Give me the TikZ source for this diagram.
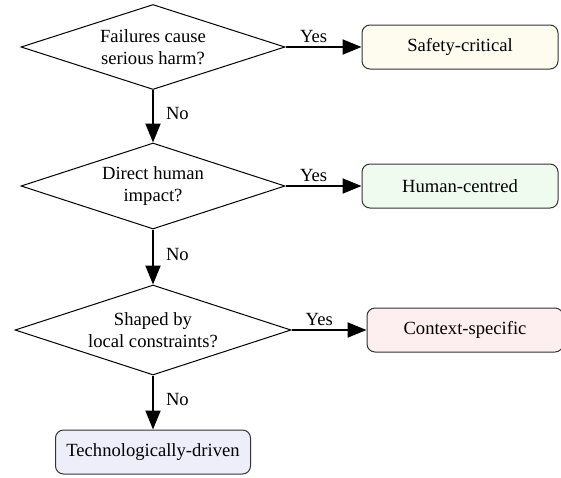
\documentclass[tikz,border=0pt]{standalone}
\usepackage{fontspec}
\setmainfont{Liberation Serif}
\usetikzlibrary{shapes.geometric,arrows.meta}
\definecolor{fyel}{HTML}{FDFCEE}
\definecolor{fgrn}{HTML}{EFFBEF}
\definecolor{fred}{HTML}{FDEFEF}
\definecolor{fblu}{HTML}{EEEEFB}
\begin{document}
\begin{tikzpicture}[x=1pt,y=-1pt,
  font=\fontsize{18.6}{22}\selectfont,
  decision/.style={diamond,aspect=3.1,draw=black,line width=1pt,inner sep=0pt,align=center,minimum width=264pt,minimum height=85pt},
  outcome/.style={draw=black!80,line width=1pt,rounded corners=8pt,minimum width=196pt,minimum height=44pt,inner sep=0pt},
  flow/.style={line width=2pt,-{Triangle[length=19pt,width=15pt]}},
  lbl/.style={inner sep=3pt}]
\useasboundingbox (0,0) rectangle (561,477);
\node[decision] (d1) at (153,47) {Failures cause\\serious harm?};
\node[decision,minimum height=86pt] (d2) at (153,186) {Direct human\\impact?};
\node[decision,minimum width=276pt,minimum height=90pt] (d3) at (153,330) {Shaped by\\local constraints?};
\node[outcome,fill=fyel] (b1) at (460,47) {Safety-critical};
\node[outcome,fill=fgrn] (b2) at (460,186) {Human-centred};
\node[outcome,fill=fred] (b3) at (465,330) {Context-specific};
\node[outcome,fill=fblu,minimum width=195pt] (b4) at (153,452) {Technologically-driven};
\draw[flow] (d1.east) -- node[lbl,pos=0.37,above] {Yes} (b1.west);
\draw[flow] (d2.east) -- node[lbl,pos=0.37,above] {Yes} (b2.west);
\draw[flow] (d3.east) -- node[lbl,pos=0.37,above] {Yes} (b3.west);
\draw[flow] (d1.south) -- node[lbl,pos=0.45,right,xshift=9pt] {No} (d2.north);
\draw[flow] (d2.south) -- node[lbl,pos=0.45,right,xshift=9pt] {No} (d3.north);
\draw[flow] (d3.south) -- node[lbl,pos=0.45,right,xshift=9pt] {No} (b4.north);
\end{tikzpicture}
\end{document}
